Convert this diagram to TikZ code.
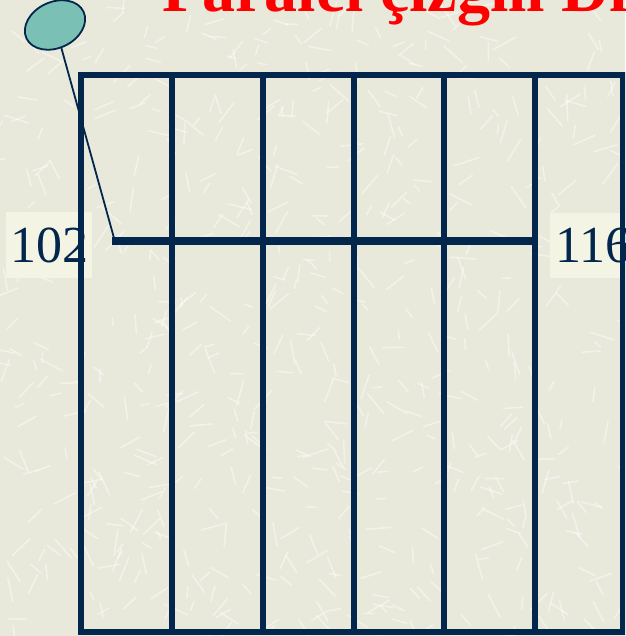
\documentclass[tikz,border=0pt]{standalone}
\usepackage{fontspec}
\setmainfont{Liberation Serif}
\usetikzlibrary{shapes.geometric}
\definecolor{bgbeige}{RGB}{232,232,219}
\definecolor{labelbg}{RGB}{243,244,228}
\definecolor{navy}{RGB}{3,38,77}
\definecolor{tealfill}{RGB}{122,192,180}
\definecolor{titlered}{RGB}{255,0,0}
\tikzset{
  gridline/.style={draw=navy, line width=6pt, line cap=rect},
  midline/.style={draw=navy, line width=7.5pt},
  thinline/.style={draw=navy, line width=1.8pt},
  numlabel/.style={fill=labelbg, text=navy, anchor=base west, inner xsep=4pt, inner ysep=15pt,
    font=\fontsize{52}{60}\selectfont},
  texture/.style={draw=white, line width=1.6pt, opacity=0.45, line cap=round}
}
\begin{document}
\begin{tikzpicture}[x=1pt,y=-1pt]
\useasboundingbox (0,0) rectangle (625,636);
\clip (0,0) rectangle (625,636);
\fill[bgbeige] (0,0) rectangle (625,636);
% texture
\pgfmathsetseed{7}
\foreach \i in {1,...,600}{
  \pgfmathsetmacro{\xx}{rnd*625}
  \pgfmathsetmacro{\yy}{rnd*636}
  \pgfmathsetmacro{\aa}{rnd*360}
  \pgfmathsetmacro{\ll}{8+rnd*18}
  \draw[texture] (\xx,\yy) -- ++(\aa:\ll);
}
% title (cut off at the top)
\node[anchor=base west, text=titlered, inner sep=0pt, font=\bfseries\fontsize{66}{80}\selectfont] (title) at (162,12) {Paralel çizgili Di};
% labels
\node[numlabel] (l102) at (6,262) {102};
\node[numlabel, inner xsep=5pt] (l116) at (550,262) {116};
% grid coordinates
\foreach \n/\x in {0/81,1/171.5,2/262.5,3/353.5,4/444,5/535,6/623}{
  \coordinate (t\n) at (\x,75);
  \coordinate (b\n) at (\x,632);
}
\draw[gridline] (t0) rectangle (b6);
\foreach \n in {1,...,5}{ \draw[gridline] (t\n) -- (b\n); }
\coordinate (hs) at (112,241);
\coordinate (he) at (535,241);
\draw[midline] (hs) -- (he);
% balloon
\node[draw=navy, line width=1.8pt, fill=tealfill, ellipse, minimum width=63pt, minimum height=46pt, inner sep=0pt, rotate=25] (ball) at (55,25) {};
\coordinate (tip) at (114,238);
\draw[thinline] (ball) -- (tip);
\end{tikzpicture}
\end{document}
